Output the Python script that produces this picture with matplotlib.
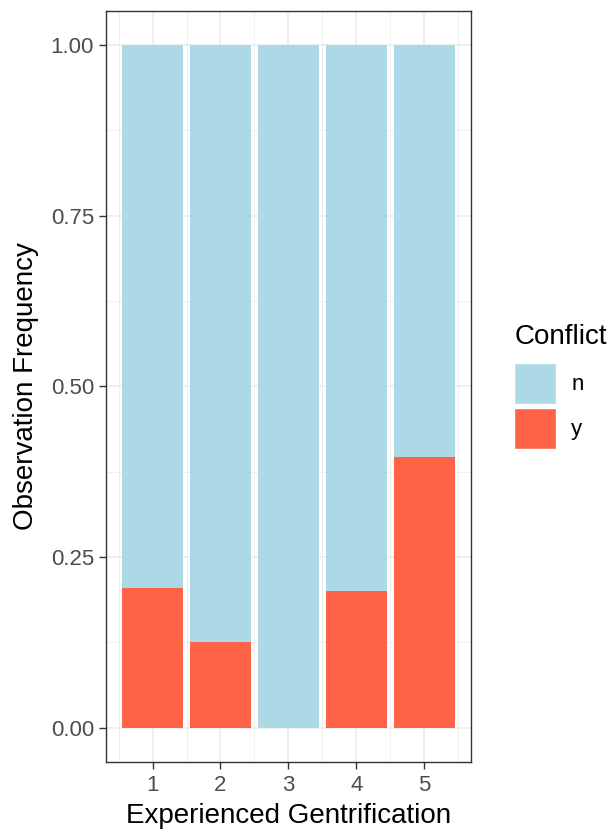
import matplotlib.pyplot as plt
from matplotlib.patches import Patch

plt.rcParams["font.family"] = ["Liberation Sans", "DejaVu Sans"]

# data
gentrification = [1, 2, 3, 4, 5]
conflict_y = [0.204, 0.125, 0.0, 0.200, 0.396]
conflict_n = [1 - v for v in conflict_y]
levels = ["n", "y"]
fill_colors = {"n": "#ADD8E6", "y": "#FF6347"}
y_ticks = [0.0, 0.25, 0.5, 0.75, 1.0]

fig = plt.figure(figsize=(6.11, 8.32), dpi=100)
ax = fig.add_axes([0.173, 0.0845, 0.598, 0.9025])

# stacked bars: y on the bottom, n on top
ax.bar(gentrification, conflict_y, width=0.9, color=fill_colors["y"], zorder=2)
ax.bar(gentrification, conflict_n, width=0.9, bottom=conflict_y,
       color=fill_colors["n"], zorder=2)

ax.set_xlim(0.31, 5.69)
ax.set_ylim(-0.05, 1.05)

# grid like theme_bw
ax.set_xticks(gentrification)
ax.set_xticks([x + 0.5 for x in range(0, 6)], minor=True)
ax.set_yticks(y_ticks)
ax.set_yticks([0.125, 0.375, 0.625, 0.875], minor=True)
ax.set_yticklabels([f"{v:.2f}" for v in y_ticks])
ax.grid(which="major", color="#EBEBEB", linewidth=1.1, zorder=0)
ax.grid(which="minor", color="#EBEBEB", linewidth=0.55, zorder=0)
ax.set_axisbelow(True)
ax.tick_params(which="minor", length=0)
ax.tick_params(which="major", length=5, width=1.0, color="#333333",
               labelcolor="#4D4D4D", labelsize=16, pad=3.5)
ax.tick_params(axis="x", pad=4.5)
for s in ax.spines.values():
    s.set_color("#333333")
    s.set_linewidth(1.0)

ax.set_xlabel("Experienced Gentrification", fontsize=20, labelpad=5)
ax.set_ylabel("Observation Frequency", fontsize=20, labelpad=8)

handles = [Patch(facecolor=fill_colors[k], edgecolor="white") for k in levels]
leg = fig.legend(handles, levels, title="Conflict", loc="upper left",
                 bbox_to_anchor=(0.842, 0.611), frameon=False, fontsize=16,
                 title_fontsize=20, handlelength=1.85, handleheight=2.46,
                 labelspacing=0.18, handletextpad=0.7, alignment="left",
                 borderaxespad=0, borderpad=0)
leg._legend_box.sep = 9.3  # more room under the title

fig.savefig("out.png", dpi=100)
